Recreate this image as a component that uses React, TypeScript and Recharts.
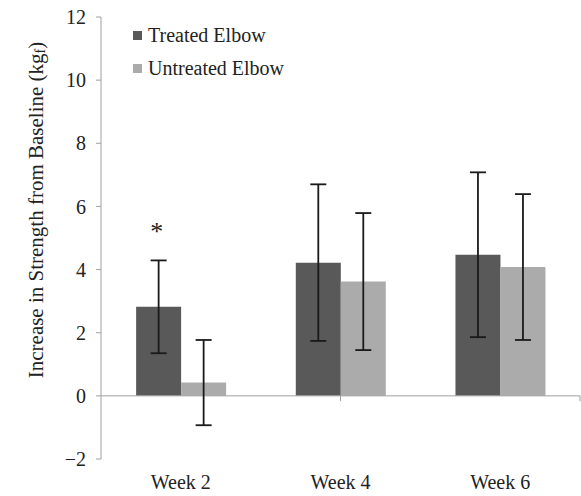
import { Bar, BarChart, ErrorBar, LabelList, Legend, ReferenceLine, XAxis, YAxis } from "recharts";

const weeks = ["Week 2", "Week 4", "Week 6"];
const treated = [2.82, 4.22, 4.47];
const treatedErr = [1.47, 2.48, 2.61];
const untreated = [0.42, 3.62, 4.08];
const untreatedErr = [1.35, 2.17, 2.31];
const significant = ["*", "", ""];
const yTicks = [-2, 0, 2, 4, 6, 8, 10, 12];

const DARK = "#595959";
const LIGHT = "#ababab";
const AXIS = "#a0a0a0";
const FONT = "Liberation Serif, serif";

const data = weeks.map((week, i) => ({
  week,
  treated: treated[i],
  treatedErr: treatedErr[i],
  untreated: untreated[i],
  untreatedErr: untreatedErr[i],
}));

const boundaries = weeks.map((_, i) => i + 1);

const legendItems = [
  { name: "Treated Elbow", color: DARK },
  { name: "Untreated Elbow", color: LIGHT },
];

const LegendBox = () => (
  <div style={{ fontFamily: FONT, fontSize: 20, color: "#222" }}>
    {legendItems.map((it) => (
      <div key={it.name} style={{ display: "flex", alignItems: "center", height: 33 }}>
        <span style={{ width: 9, height: 9, background: it.color, marginRight: 6, display: "inline-block" }} />
        {it.name}
      </div>
    ))}
  </div>
);

// asterisk above the error bar of the treated series
const SigMark = (props: any) => {
  const { x, y, width, height, value, index } = props;
  const mark = significant[index];
  if (!mark) return null;
  const perUnit = height / value;
  const top = y - treatedErr[index] * perUnit;
  return (
    <text x={x + width / 2 - 2} y={top - 20} textAnchor="middle" style={{ fontFamily: FONT, fontSize: 26 }} fill="#222">
      {mark}
    </text>
  );
};

const YLabel = (props: any) => {
  const { viewBox } = props;
  const cx = 36;
  const cy = viewBox.y + viewBox.height / 2 - 28;
  return (
    <text
      x={cx}
      y={cy}
      transform={`rotate(-90, ${cx}, ${cy})`}
      textAnchor="middle"
      dominantBaseline="central"
      style={{ fontFamily: FONT, fontSize: 21 }}
      fill="#222"
    >
      Increase in Strength from Baseline (kg
      <tspan style={{ fontSize: 14 }} dy={4}>f</tspan>
      <tspan dy={-4}>)</tspan>
    </text>
  );
};

const fmt = (v: number) => (v < 0 ? `\u2212${Math.abs(v)}` : `${v}`);

export default function App() {
  return (
    <div style={{ position: "absolute", left: 0, top: 0, background: "#fff", fontFamily: FONT }}>
      <BarChart
        width={581}
        height={496}
        data={data}
        margin={{ top: 17, right: 1, left: 0, bottom: 0 }}
        barCategoryGap="22%"
        barGap={0}
        style={{ fontFamily: FONT }}
      >
        <XAxis
          dataKey="week"
          axisLine={false}
          tickLine={false}
          height={37}
          tick={{ style: { fontFamily: FONT, fontSize: 20 }, fill: "#222" }}
          tickMargin={10}
        />
        <XAxis xAxisId="num" type="number" domain={[0, 3]} hide />
        <YAxis
          domain={[-2, 12]}
          ticks={yTicks}
          interval={0}
          width={101}
          stroke={AXIS}
          tickSize={5}
          tickMargin={10}
          tickFormatter={fmt}
          tick={{ style: { fontFamily: FONT, fontSize: 20 }, fill: "#222" }}
          label={<YLabel />}
        />
        <ReferenceLine y={0} stroke={AXIS} strokeWidth={1} />
        {boundaries.map((b) => (
          <ReferenceLine
            key={b}
            xAxisId="num"
            segment={[{ x: b, y: 0 }, { x: b, y: -0.17 }]}
            stroke={AXIS}
            strokeWidth={1}
          />
        ))}
        <Bar dataKey="treated" fill={DARK} isAnimationActive={false}>
          <ErrorBar dataKey="treatedErr" width={8} stroke="#1a1a1a" strokeWidth={1.8} />
          <LabelList dataKey="treated" content={<SigMark />} />
        </Bar>
        <Bar dataKey="untreated" fill={LIGHT} isAnimationActive={false}>
          <ErrorBar dataKey="untreatedErr" width={8} stroke="#1a1a1a" strokeWidth={1.8} />
        </Bar>
        <Legend
          layout="vertical"
          align="center"
          verticalAlign="middle"
          content={<LegendBox />}
          wrapperStyle={{ left: 133, top: 19, width: "auto", height: "auto" }}
        />
      </BarChart>
    </div>
  );
}
